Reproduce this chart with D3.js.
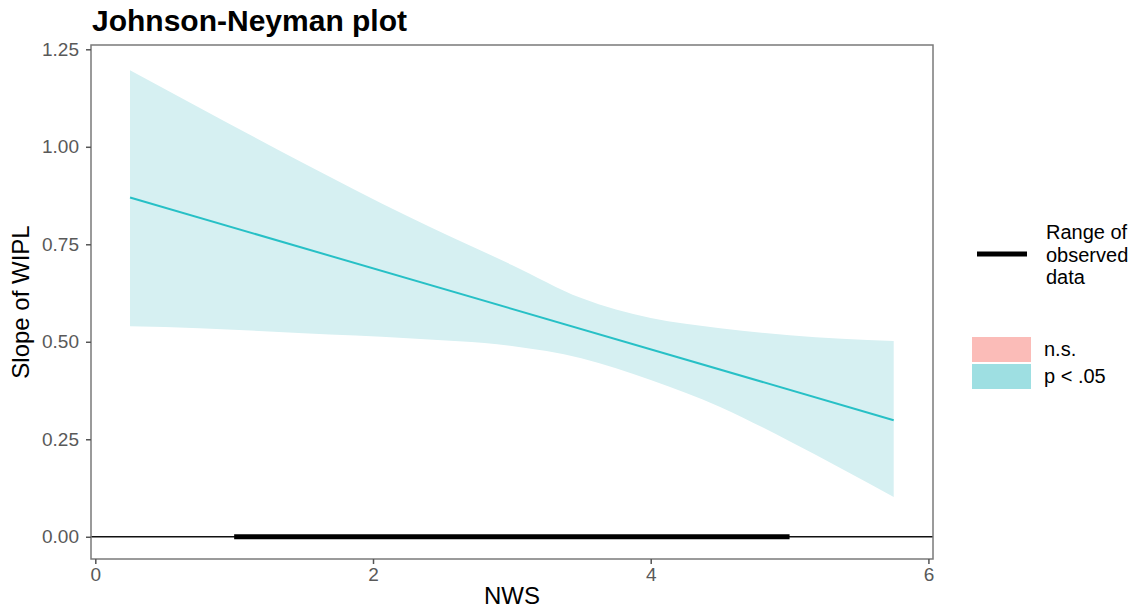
<!DOCTYPE html>
<html>
<head>
<meta charset="utf-8">
<script src="https://cdn.jsdelivr.net/npm/d3@7"></script>
<style>
  body { margin: 0; background: #fff; }
  svg { font-family: "Liberation Sans", Arial, sans-serif; }
</style>
</head>
<body>
<div id="content"></div>
<script>
// data
const nws = [0.25, 0.75, 1.5, 2.25, 3.0, 3.5, 4.0, 4.5, 5.0, 5.75];
const upper = [1.196, 1.100, 0.958, 0.822, 0.697, 0.612, 0.561, 0.535, 0.517, 0.502];
const lower = [0.540, 0.535, 0.522, 0.509, 0.489, 0.458, 0.402, 0.333, 0.245, 0.102];
const slopeEnds = [0.870, 0.299];
const observedRange = [1, 5];
const xTicks = [0, 2, 4, 6];
const yTicks = [0, 0.25, 0.5, 0.75, 1.0, 1.25];
const legendFills = ["n.s.", "p < .05"];

const W = 1146, H = 615;
const panel = { left: 91, right: 933, top: 45, bottom: 559 };

const svg = d3.select("#content")
    .append("svg")
    .attr("width", W)
    .attr("height", H);

const xScale = d3.scaleLinear().domain([-0.031, 6.033]).range([panel.left, panel.right]);
const yScale = d3.scaleLinear().domain([-0.057, 1.261]).range([panel.bottom, panel.top]);

// confidence band
const band = nws.map((x, i) => ({ x: x, lo: lower[i], hi: upper[i] }));
svg.append("path")
    .datum(band)
    .attr("fill", "#d6f0f2")
    .attr("d", d3.area()
        .x(d => xScale(d.x))
        .y0(d => yScale(d.lo))
        .y1(d => yScale(d.hi))
        .curve(d3.curveMonotoneX));

// slope line
svg.append("line")
    .attr("x1", xScale(nws[0]))
    .attr("x2", xScale(nws[nws.length - 1]))
    .attr("y1", yScale(slopeEnds[0]))
    .attr("y2", yScale(slopeEnds[1]))
    .attr("stroke", "#27c0c6")
    .attr("stroke-width", 2);

// zero line and range of observed data
svg.append("line")
    .attr("x1", panel.left).attr("x2", panel.right)
    .attr("y1", yScale(0)).attr("y2", yScale(0))
    .attr("stroke", "#111").attr("stroke-width", 1.5);

svg.append("line")
    .attr("x1", xScale(observedRange[0])).attr("x2", xScale(observedRange[1]))
    .attr("y1", yScale(0)).attr("y2", yScale(0))
    .attr("stroke", "#000").attr("stroke-width", 5);

// panel border
svg.append("rect")
    .attr("x", panel.left).attr("y", panel.top)
    .attr("width", panel.right - panel.left).attr("height", panel.bottom - panel.top)
    .attr("fill", "none")
    .attr("stroke", "#7a7a7a")
    .attr("stroke-width", 1.5);

// axes
const xAxis = svg.append("g")
    .attr("transform", "translate(0," + panel.bottom + ")")
    .call(d3.axisBottom(xScale).tickValues(xTicks).tickSize(5).tickPadding(4).tickFormat(d3.format("d")));
const yAxis = svg.append("g")
    .attr("transform", "translate(" + panel.left + ",0)")
    .call(d3.axisLeft(yScale).tickValues(yTicks).tickSize(5).tickPadding(7).tickFormat(d3.format(".2f")));

[xAxis, yAxis].forEach(g => {
    g.select(".domain").remove();
    g.selectAll(".tick line").attr("stroke", "#555").attr("stroke-width", 1.5);
    g.selectAll(".tick text")
        .attr("fill", "#595959")
        .style("font-size", "19px")
        .style("font-family", "Liberation Sans, Arial, sans-serif");
});

// titles
svg.append("text")
    .attr("x", 92).attr("y", 31)
    .style("font-size", "30px")
    .style("font-weight", "bold")
    .text("Johnson-Neyman plot");

svg.append("text")
    .attr("x", (panel.left + panel.right) / 2).attr("y", 604)
    .attr("text-anchor", "middle")
    .style("font-size", "24px")
    .text("NWS");

svg.append("text")
    .attr("transform", "rotate(-90)")
    .attr("x", -(panel.top + panel.bottom) / 2).attr("y", 29)
    .attr("text-anchor", "middle")
    .style("font-size", "24px")
    .text("Slope of WIPL");

// legend: range line
svg.append("line")
    .attr("x1", 977).attr("x2", 1027)
    .attr("y1", 254).attr("y2", 254)
    .attr("stroke", "#000").attr("stroke-width", 5);

svg.append("text")
    .attr("x", 1046).attr("y", 239)
    .style("font-size", "20px")
    .selectAll("tspan")
    .data(["Range of", "observed", "data"])
    .enter()
    .append("tspan")
    .attr("x", 1046)
    .attr("dy", (d, i) => i === 0 ? 0 : 22.5)
    .text(d => d);

// legend: significance fills
const fillColor = d3.scaleOrdinal().domain(legendFills).range(["#fbbcb8", "#9edfe2"]);
const keys = svg.append("g").selectAll("g")
    .data(legendFills)
    .enter()
    .append("g")
    .attr("transform", (d, i) => "translate(972," + (337 + i * 27) + ")");
keys.append("rect")
    .attr("width", 59).attr("height", 25)
    .attr("fill", d => fillColor(d));
keys.append("text")
    .attr("x", 72).attr("y", 19)
    .style("font-size", "20px")
    .text(d => d);
</script>
</body>
</html>
